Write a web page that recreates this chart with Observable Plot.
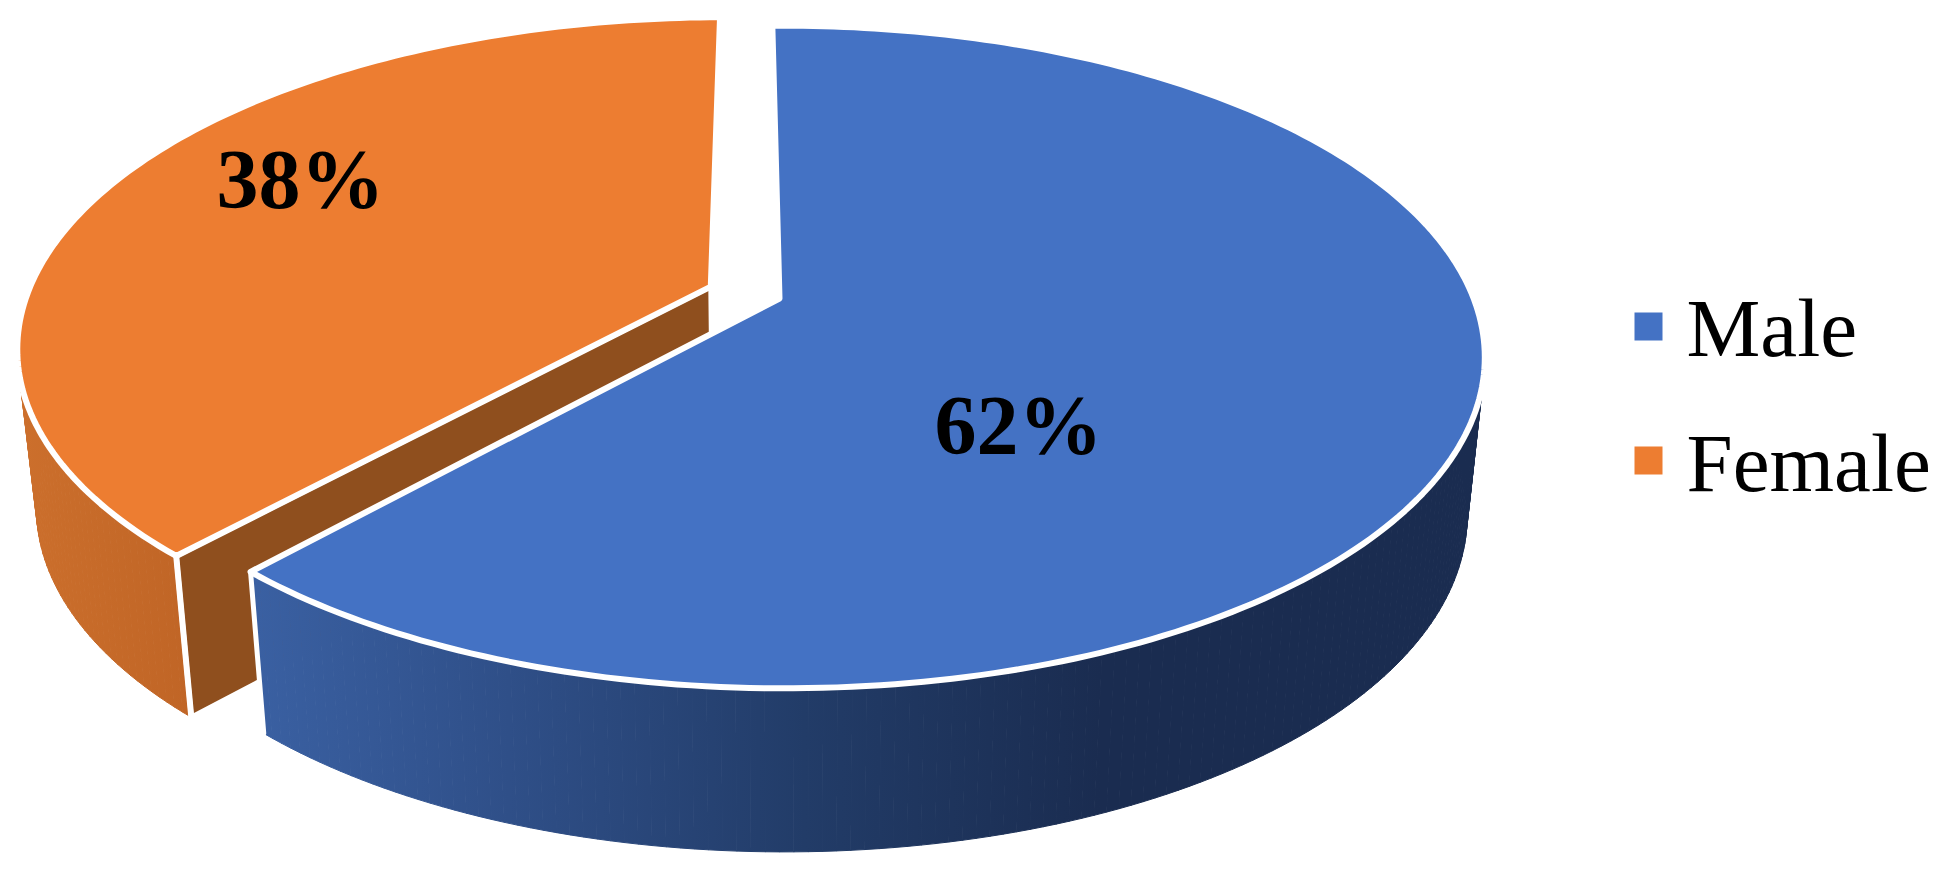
<!DOCTYPE html>
<html>
<head>
<meta charset="utf-8">
<script src="https://cdn.jsdelivr.net/npm/d3@7"></script>
<script src="https://cdn.jsdelivr.net/npm/@observablehq/plot@0.6"></script>
<style>html,body{margin:0;padding:0;background:#fff}svg{display:block}</style>
</head>
<body>
<div id="chart"></div>
<script>
// Data
const categories = ["Male", "Female"];
const shares = [62, 38];
const labels = ["62%", "38%"];
const colors = ["#4472C4", "#ED7D31"];

// View of the tilted pie, in pie-radius units
const W = 1954, H = 869;
const centerPx = [779, 298], radiusPx = [690, 321];
const perspective = 0.1765, yaw = 0.006, depth = 0.489;
const floorScaleX = 0.975, floorScaleY = 1.017;
const rotation = -1.2, explode = 0.107;
// The outer cut edges of the two slices lean slightly apart in the picture
const maleStartLean = 0.5, femaleEndLean = 1.1;
// Only the front of the rim shows a wall
const maleWallFrom = 70, femaleWallTo = 300;

const total = d3.sum(shares);
const toDeg = s => s / total * 360;
const maleEnd = rotation + toDeg(shares[0]);
const femaleEnd = maleEnd + toDeg(shares[1]);
const rad = d => d * Math.PI / 180;

function project(deg, r, off, low) {
  const u = r * Math.sin(rad(deg)) + off[0];
  const v = -r * Math.cos(rad(deg)) + off[1];
  const w = 1 - perspective * v - yaw * u;
  return {
    x: (low ? floorScaleX : 1) * u / w,
    y: (low ? depth : 0) + (low ? floorScaleY : 1) * v / w
  };
}
function arc(a, b, off, low) {
  const n = Math.max(2, Math.ceil(Math.abs(b - a)));
  return d3.range(n + 1).map(i => project(a + (b - a) * i / n, 1, off, low));
}
// One quad per degree, so the wall is swept down from the rim to the floor
function wall(a, b, off) {
  const n = Math.ceil(Math.abs(b - a));
  return d3.range(n).flatMap(i => {
    const p = a + (b - a) * i / n, q = a + (b - a) * (i + 1) / n;
    return [project(p, 1, off, false), project(q, 1, off, false),
            project(q, 1, off, true), project(p, 1, off, true)]
      .map(d => ({...d, quad: i}));
  });
}
const mid = (maleEnd + femaleEnd) / 2;
const maleOff = [0, 0];
const femaleOff = [explode * Math.sin(rad(mid)), -explode * Math.cos(rad(mid))];

const maleTop = [project(0, 0, maleOff, false), ...arc(rotation + maleStartLean, maleEnd, maleOff, false)];
const femaleTop = [project(0, 0, femaleOff, false), ...arc(maleEnd, femaleEnd + femaleEndLean, femaleOff, false)];
const maleSide = wall(maleWallFrom, maleEnd, maleOff);
const femaleSide = wall(maleEnd, femaleWallTo, femaleOff);
const femaleCut = [
  project(maleEnd, 1, femaleOff, false), project(0, 0, femaleOff, false),
  project(0, 0, femaleOff, true), project(maleEnd, 1, femaleOff, true)
];
const maleCorner = [project(maleEnd, 1, maleOff, false), project(maleEnd, 1, maleOff, true)];
const femaleCorner = [project(maleEnd, 1, femaleOff, false), project(maleEnd, 1, femaleOff, true)];

const unitX = px => (px - centerPx[0]) / radiusPx[0];
const unitY = px => (px - centerPx[1]) / radiusPx[1];

const sliceLabels = [
  {t: labels[0], x: unitX(1018), y: unitY(427)},
  {t: labels[1], x: unitX(300), y: unitY(181)}
];
const legendRows = categories.map((c, i) => ({
  name: c, color: colors[i],
  sx: unitX(1648), sy: unitY([326, 460][i]),
  tx: unitX(1686), ty: unitY([329, 464][i])
}));

function gradients() {
  const defs = d3.create("svg:defs");
  const add = (id, x1, x2, stops) => {
    const g = defs.append("linearGradient").attr("id", id)
      .attr("gradientUnits", "userSpaceOnUse")
      .attr("x1", x1).attr("x2", x2).attr("y1", 0).attr("y2", 0);
    stops.forEach(([o, c]) => g.append("stop").attr("offset", o).attr("stop-color", c));
  };
  add("maleWall", 255, 1100, [[0, "#3A60A2"], [0.3, "#2F4F88"], [0.65, "#223C68"], [1, "#1A2C50"]]);
  add("femaleWall", 20, 190, [[0, "#CC6F2C"], [1, "#C06526"]]);
  return defs.node();
}

const face = (pts, fill, sw) => Plot.line(pts, {
  x: "x", y: "y", fill, stroke: "white", strokeWidth: sw,
  strokeLinejoin: "round", curve: "linear-closed"
});
const sweep = (pts, paint) => Plot.line(pts, {
  x: "x", y: "y", z: "quad", fill: paint, stroke: paint, strokeWidth: 1,
  curve: "linear-closed"
});
const edge = (pts, sw) => Plot.line(pts, {x: "x", y: "y", stroke: "white", strokeWidth: sw});

const plot = Plot.plot({
  width: W, height: H,
  margin: 0,
  style: {background: "white"},
  x: {domain: [unitX(0), unitX(W)], range: [0, W], axis: null},
  y: {domain: [unitY(0), unitY(H)], range: [0, H], axis: null},
  marks: [
    gradients,
    sweep(femaleSide, "url(#femaleWall)"),
    face(femaleCut, "#8F4F1E", 5),
    edge(femaleCorner, 6),
    face(femaleTop, colors[1], 6),
    sweep(maleSide, "url(#maleWall)"),
    edge(maleCorner, 5),
    face(maleTop, colors[0], 6),
    Plot.text(sliceLabels, {
      x: "x", y: "y", text: "t", fontFamily: "Liberation Serif",
      fontWeight: "bold", fontSize: 84, fill: "black"
    }),
    Plot.dot(legendRows, {
      x: "sx", y: "sy", symbol: "square", r: 15.8, fill: "color", stroke: null
    }),
    Plot.text(legendRows, {
      x: "tx", y: "ty", text: "name", textAnchor: "start",
      fontFamily: "Liberation Serif", fontSize: 83, fill: "black"
    })
  ]
});
document.getElementById("chart").append(plot);
</script>
</body>
</html>
